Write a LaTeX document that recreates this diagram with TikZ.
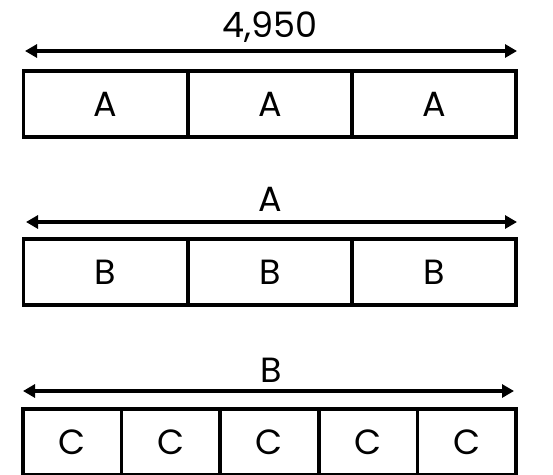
\documentclass[tikz,border=0pt]{standalone}
\usepackage{fontspec}
\setmainfont{Poppins}
\usepackage{tikz}
\usetikzlibrary{arrows.meta,positioning}

\begin{document}
\begin{tikzpicture}[
  x=1pt, y=-1pt,
  font=\fontsize{35}{38}\selectfont,
  cell/.style ={draw=black, line width=3.5pt, minimum height=66pt, inner sep=0pt,
                text height=25pt, text depth=0pt},
  wide/.style ={cell, minimum width=164pt},
  narrow/.style={cell, minimum width=98.6pt},
  lbl/.style  ={anchor=base, inner sep=0pt},
  dim/.style  ={{Triangle[length=12pt,width=13pt]}-{Triangle[length=12pt,width=13pt]}, line width=3.5pt}
]
\useasboundingbox (0,0) rectangle (553,474);

% ---------- row 1 : 4,950 ----------
\node[lbl] (tot) at (270,37) {4,950};
\coordinate (t1) at (25,51);
\coordinate (t2) at (517,51);
\draw[dim] (t1) -- (t2);
\node[wide] (a1) at (105.5,104) {A};
\node[wide] (a2) at (270,104)   {A};
\node[wide] (a3) at (434,104)   {A};

% ---------- row 2 : A ----------
\node[lbl] (tA) at (270,211) {A};
\coordinate (u1) at (26,222);
\coordinate (u2) at (517,222);
\draw[dim] (u1) -- (u2);
\node[wide] (b1) at (105.5,272) {B};
\node[wide] (b2) at (270,272)   {B};
\node[wide] (b3) at (434,272)   {B};

% ---------- row 3 : B ----------
\node[lbl] (tB) at (271,382) {B};
\coordinate (v1) at (23,391);
\coordinate (v2) at (514,391);
\draw[dim] (v1) -- (v2);
\node[narrow] (c1) at (72.3,442)  {C};
\node[narrow] (c2) at (170.9,442) {C};
\node[narrow] (c3) at (269.5,442) {C};
\node[narrow] (c4) at (368.1,442) {C};
\node[narrow] (c5) at (466.7,442) {C};
\end{tikzpicture}
\end{document}
